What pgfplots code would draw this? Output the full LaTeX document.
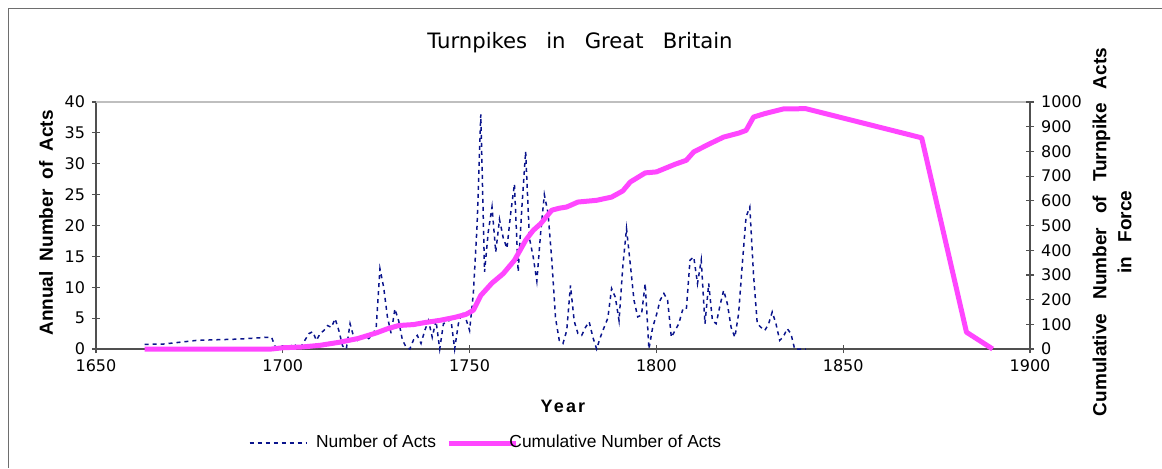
\documentclass[border=0pt]{standalone}
\usepackage{fontspec}
\setmainfont{Liberation Sans}
\newfontfamily\dejavu{DejaVu Sans}
\usepackage{pgfplots}
\usepackage{pgfplotstable}
\pgfplotsset{compat=1.18}

\definecolor{actsblue}{RGB}{10,20,140}
\definecolor{cumpink}{RGB}{255,70,255}
\definecolor{axisgray}{RGB}{80,80,80}
\definecolor{framegray}{RGB}{110,110,110}

% annual number of acts
\pgfplotstableread{
year acts
1663 0.75
1668 0.8
1677 1.4
1688 1.6
1696 1.9
1697 1.9
1698 0.3
1699 0.3
1700 0.5
1701 0.5
1702 0.3
1703 0.9
1704 0
1705 0.5
1706 1.5
1707 2.5
1708 2.8
1709 1.4
1710 2.5
1711 3.0
1712 3.8
1713 3.5
1714 4.9
1715 3.0
1716 0.5
1717 0
1718 4.1
1719 1.9
1720 1.4
1721 2.0
1722 2.2
1723 1.7
1724 2.3
1725 3.5
1726 13
1727 10
1728 5.2
1729 2.5
1730 6.5
1731 4.6
1732 1.5
1733 0.3
1734 0
1735 1.5
1736 2.2
1737 0.9
1738 3
1739 4.6
1740 1.9
1741 4.6
1742 0
1743 4.1
1744 4.4
1745 4.8
1746 0
1747 4.1
1748 6
1749 4.9
1750 3
1751 9
1752 20
1753 38
1754 12.5
1755 19
1756 23
1757 15.7
1758 21
1759 18
1760 16.3
1761 22
1762 26.7
1763 12.5
1764 23
1765 32
1766 18
1767 15
1768 11
1769 18.7
1770 25
1771 22
1772 14.4
1773 5
1774 1.4
1775 0.9
1776 3
1777 10.3
1778 4.5
1779 2.5
1780 2.2
1781 3.5
1782 4.4
1783 1.9
1784 0
1785 1.9
1786 3.5
1787 5
1788 9.8
1789 8.4
1790 4.6
1791 13.3
1792 19.5
1793 13.8
1794 7.9
1795 5.2
1796 5.5
1797 10.6
1798 0
1799 3.5
1800 5.5
1801 7.9
1802 9.0
1803 7.9
1804 1.9
1805 3
1806 4.1
1807 6.3
1808 6.3
1809 14.4
1810 14.9
1811 10.6
1812 14.4
1813 4.1
1814 10.6
1815 4.6
1816 4.1
1817 7
1818 9.5
1819 7.3
1820 3.5
1821 1.9
1822 5.7
1823 13.8
1824 21.4
1825 23
1826 12
1827 4.1
1828 3.5
1829 3.0
1830 4
1831 6.0
1832 4.1
1833 1.4
1834 2
1835 3.3
1836 2.5
1837 0
1838 0
1839 0
1840 0
}\actstable

% cumulative number of turnpike acts in force
\pgfplotstableread{
year cum
1663 0
1697 0
1700 5
1705 8
1710 15
1715 27
1720 42
1725 65
1728 82
1731 95
1735 99
1738 107
1742 116
1746 128
1749 140
1751 157
1753 217
1756 267
1759 305
1762 359
1765 440
1767 480
1769 507
1772 562
1774 570
1776 575
1779 595
1784 602
1788 615
1791 640
1793 676
1797 713
1800 717
1805 748
1808 764
1810 798
1814 829
1818 858
1822 874
1824 885
1826 939
1829 953
1834 972
1840 973
1871 855
1883 68
1890 0
}\cumtable

\pgfplotsset{
  turnpike base/.style={
    at={(48pt,59.5pt)}, anchor=south west,
    scale only axis, width=467pt, height=123.5pt,
    xmin=1650, xmax=1900,
    tick align=center, major tick length=4pt,
    tick style={axisgray, line width=0.6pt},
    axis line style={axisgray, line width=0.8pt},
    ticklabel style={font=\dejavu\fontsize{8}{9}\selectfont},
    /pgf/number format/assume math mode=true,
    /pgf/number format/1000 sep={},
    clip=false,
  },
}

\begin{document}
\begin{tikzpicture}
\useasboundingbox (0,0) rectangle (581pt,234pt);
\draw[framegray, line width=0.5pt] (4pt,0pt) -- (4pt,230pt) -- (581pt,230pt);

\begin{axis}[turnpike base,
  axis lines*=left,
  ymin=0, ymax=40, ytick={0,5,...,40},
  xtick={1650,1700,...,1900},
]
\draw[gray!50, line width=0.6pt] (rel axis cs:0,1) -- (rel axis cs:1,1);
\addplot[actsblue, line width=0.75pt, dash pattern=on 2pt off 2pt] table[x=year, y=acts] {\actstable};
\end{axis}

\begin{axis}[turnpike base,
  axis x line=none, axis y line*=right,
  ymin=0, ymax=1000, ytick={0,100,...,1000},
  legend style={at={(0.1638,-0.3806)}, anchor=west, draw=none, fill=none,
    inner sep=0pt, outer sep=0pt, legend columns=2,
    font=\fontsize{8.7}{10}\selectfont,
    nodes={inner sep=0pt},
    /tikz/every odd column/.append style={column sep=-4.5pt},
    /tikz/every even column/.append style={column sep=5.2pt}},
  legend cell align=left,
]
\addlegendimage{legend image code/.code={\draw[actsblue, line width=0.75pt, dash pattern=on 2pt off 2pt] (0pt,0pt) -- (28.5pt,0pt); \path (37.5pt,0pt);}}
\addlegendentry{Number of Acts}
\addplot[cumpink, line width=2.5pt, line join=round,
  legend image code/.code={\draw[cumpink, line width=2.5pt] (0pt,0pt) -- (33.5pt,0pt);}]
  table[x=year, y=cum] {\cumtable};
\addlegendentry{Cumulative Number of Acts}
\end{axis}

\node at (290pt,212.5pt) {\dejavu\fontsize{10.6}{12}\selectfont Turnpikes\hspace{0.9em}in\hspace{0.9em}Great\hspace{0.9em}Britain};
\node at (281.5pt,31pt) {\bfseries\fontsize{9}{10}\selectfont\addfontfeature{LetterSpace=12}Year};
\node[rotate=90, font=\bfseries\fontsize{9.5}{11}\selectfont] at (23pt,122.5pt) {Annual\hspace{5pt}Number\hspace{5pt}of\hspace{5pt}Acts};
\node[rotate=90, align=center, font=\bfseries\fontsize{9.5}{12.5}\selectfont] at (556pt,118pt) {Cumulative\hspace{7pt}Number\hspace{7pt}of\hspace{7pt}Turnpike\hspace{7pt}Acts\\in\hspace{7pt}Force};
\end{tikzpicture}
\end{document}
